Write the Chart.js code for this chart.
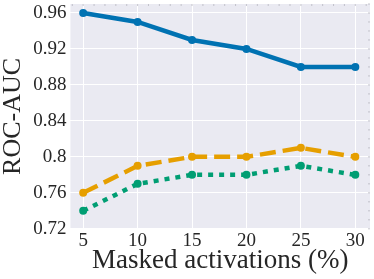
<!DOCTYPE html>
<html lang="en">
<head>
  <meta charset="UTF-8">
  <title>ROC-AUC vs masked activations</title>
  <script src="https://cdn.jsdelivr.net/npm/chart.js"></script>
  <style>
    body { margin: 0; background: #fff; }
    #wrap { width: 374px; height: 279px; }
  </style>
</head>
<body>
  <div id="wrap"><canvas id="chart"></canvas></div>
  <script>
    const masked = [5, 10, 15, 20, 25, 30];
    const blueVals = [0.96, 0.95, 0.93, 0.92, 0.90, 0.90];
    const orangeVals = [0.76, 0.79, 0.80, 0.80, 0.81, 0.80];
    const greenVals = [0.74, 0.77, 0.78, 0.78, 0.79, 0.78];
    const yTicks = [0.72, 0.76, 0.8, 0.84, 0.88, 0.92, 0.96];

    const toPts = vals => masked.map((x, i) => ({ x, y: vals[i] }));

    // grey plot background + small minor ticks on top/right edges
    const panel = {
      id: 'panel',
      beforeDraw(chart) {
        const { ctx, chartArea: a } = chart;
        ctx.save();
        ctx.fillStyle = '#EAEAF2';
        ctx.fillRect(a.left, a.top, a.right - a.left, a.bottom - a.top);
        ctx.restore();
      },
      afterDraw(chart) {
        const { ctx, chartArea: a, scales } = chart;
        ctx.save();
        ctx.strokeStyle = '#b8b8c0';
        ctx.lineWidth = 0.8;
        for (let v = 4; v <= 31; v++) {
          const px = scales.x.getPixelForValue(v);
          ctx.beginPath(); ctx.moveTo(px, a.top); ctx.lineTo(px, a.top + 2); ctx.stroke();
        }
        for (let v = 72; v <= 97; v++) {
          const py = scales.y.getPixelForValue(v / 100);
          ctx.beginPath(); ctx.moveTo(a.right, py); ctx.lineTo(a.right - 2, py); ctx.stroke();
        }
        ctx.restore();
      }
    };

    const font = 'Liberation Serif, DejaVu Serif, serif';

    new Chart(document.getElementById('chart'), {
      type: 'line',
      data: {
        datasets: [
          { data: toPts(blueVals), borderColor: '#0072B2', backgroundColor: '#0072B2',
            borderWidth: 4.5, pointRadius: 4, pointBorderWidth: 0 },
          { data: toPts(orangeVals), borderColor: '#E69F00', backgroundColor: '#E69F00',
            borderWidth: 4.5, borderDash: [16, 7], pointRadius: 4, pointBorderWidth: 0 },
          { data: toPts(greenVals), borderColor: '#009E73', backgroundColor: '#009E73',
            borderWidth: 4.5, borderDash: [5, 6], pointRadius: 4, pointBorderWidth: 0 }
        ]
      },
      options: {
        responsive: true,
        maintainAspectRatio: false,
        animation: false,
        layout: { padding: { top: 3, right: 2, left: 0, bottom: 0 } },
        plugins: { legend: { display: false }, tooltip: { enabled: false } },
        scales: {
          x: {
            type: 'linear', min: 3.83, max: 31.35,
            afterBuildTicks: s => { s.ticks = masked.map(v => ({ value: v })); },
            grid: { color: '#ffffff', lineWidth: 1, drawTicks: false },
            border: { display: false },
            ticks: { color: '#262626', padding: 1, font: { family: font, size: 19 } },
            title: { display: true, text: 'Masked activations (%)', color: '#262626',
              padding: { top: -9, bottom: 2 }, font: { family: font, size: 27 } }
          },
          y: {
            min: 0.72, max: 0.97,
            afterBuildTicks: s => { s.ticks = yTicks.map(v => ({ value: v })); },
            afterFit: s => { s.paddingTop = 0; },
            grid: { color: '#ffffff', lineWidth: 1, drawTicks: false },
            border: { display: false },
            ticks: { color: '#262626', padding: 4, font: { family: font, size: 19 },
              callback: v => String(+v.toFixed(2)) },
            title: { display: true, text: 'ROC-AUC', color: '#262626',
              padding: { top: -2, bottom: 0 }, font: { family: font, size: 26 } }
          }
        }
      },
      plugins: [panel]
    });
  </script>
</body>
</html>
